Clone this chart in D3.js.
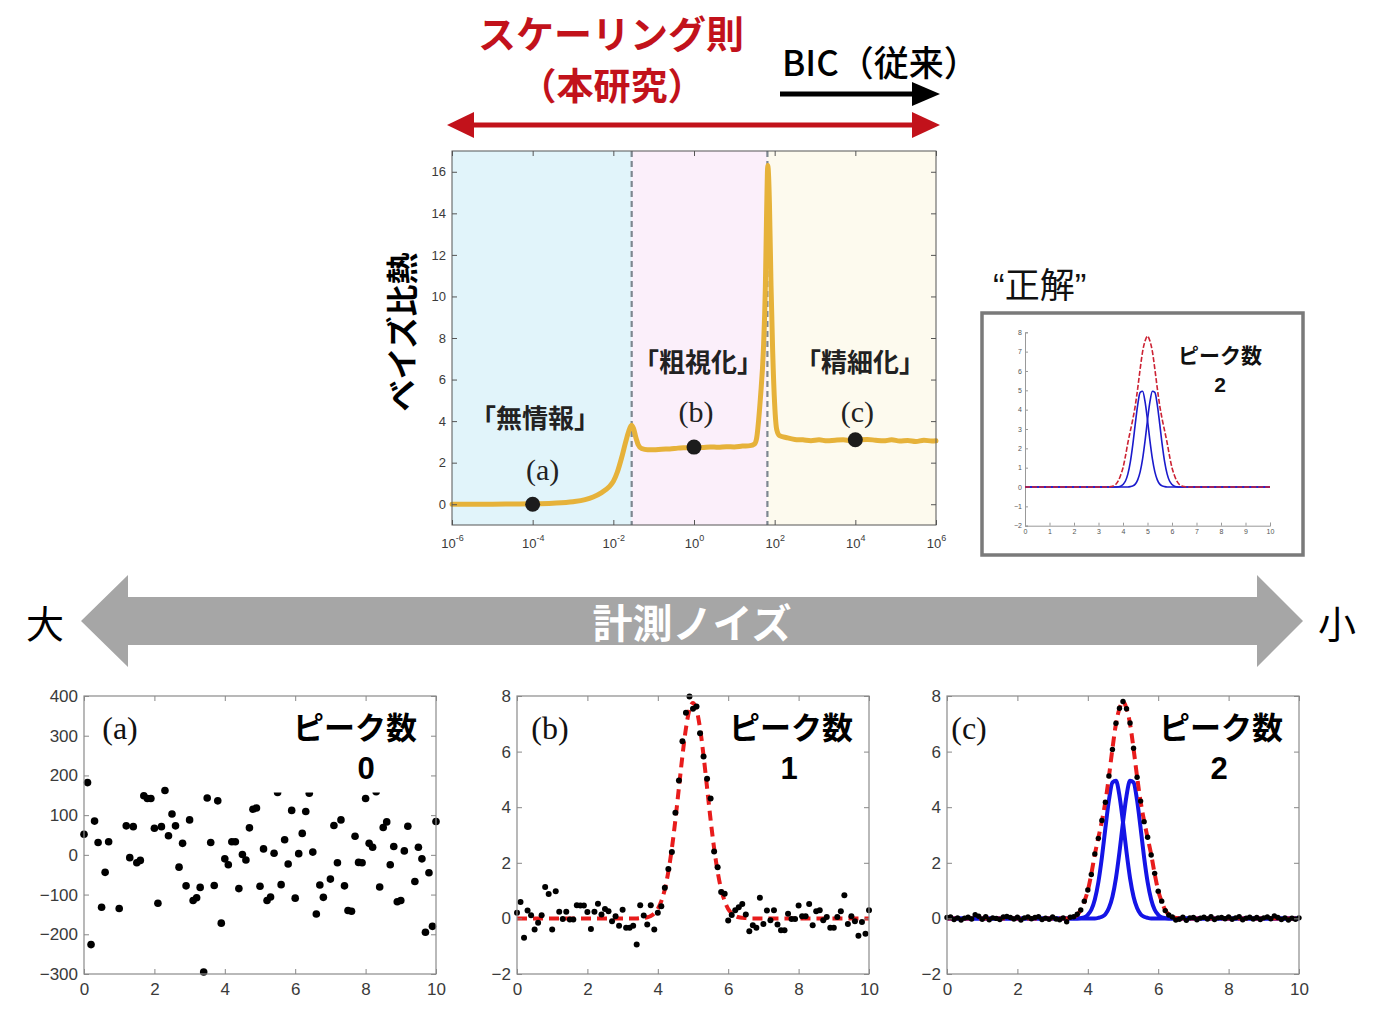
<!DOCTYPE html>
<html><head><meta charset="utf-8">
<script src="https://cdn.jsdelivr.net/npm/d3@7"></script>
<style>body{margin:0;background:#fff}svg{display:block}</style>
</head><body>
<svg id="c" width="1380" height="1014"></svg>
<script>
// ---------------- DATA ----------------
// main chart: Bayes specific heat vs noise parameter (log10 x)
const mainLogX = [-6,-5.5,-5,-4.5,-4,-3.5,-3,-2.7,-2.5,-2.3,-2.1,-2.0,-1.9,-1.8,-1.7,-1.62,-1.55,-1.5,-1.44,-1.38,-1.3,-1.15,-1.0,-0.8,-0.6,-0.4,-0.2,0,0.2,0.4,0.6,0.8,1.0,1.2,1.39,1.5,1.555,1.6,1.65,1.72,1.77,1.8,1.83,1.87,1.91,1.95,2.0,2.05,2.12,2.3,2.5,2.7,2.9,3.1,3.3,3.5,3.7,3.9,4.1,4.3,4.5,4.7,4.9,5.1,5.3,5.5,5.7,5.9,6];
const mainY    = [0,0,0,0.01,0.02,0.05,0.12,0.22,0.35,0.55,0.85,1.1,1.55,2.2,2.95,3.5,3.8,3.65,3.2,2.85,2.68,2.62,2.62,2.65,2.66,2.7,2.72,2.74,2.73,2.76,2.74,2.77,2.76,2.8,2.82,2.9,3.2,4.0,5.2,7.4,10.5,14,16.3,14.5,10.5,7.4,4.8,3.6,3.3,3.2,3.12,3.1,3.06,3.1,3.05,3.08,3.1,3.06,3.1,3.12,3.08,3.05,3.1,3.04,3.07,3.02,3.08,3.04,3.05];
const regionEdges  = [-6, -1.545, 1.82, 6];
const regionLabels = ["「無情報」","「粗視化」","「精細化」"];
const markerLogX   = [-4, 0, 4];
const markerY      = [0, 2.75, 3.1];
const markerLabels = ["(a)","(b)","(c)"];
const mainYTicks   = [0,2,4,6,8,10,12,14,16];
const mainXExp     = [-6,-4,-2,0,2,4,6];

// bottom panels: samples at x = 0, 0.1, ..., 10
const pointsA = [52,182,-226,85,31,-132,-44,33,290,320,
  -135,280,73,-7,71,-20,-14,149,142,142,
  67,-122,71,162,48,103,73,-31,29,-78,
  88,-115,-108,-82,-295,143,31,-77,136,-172,
  -10,-25,33,33,-85,1,-13,68,115,118,
  -79,15,-115,-106,4,157,-75,38,-23,112,
  -109,3,54,109,155,7,-149,-76,-107,230,
  -61,74,-20,88,-78,-140,-142,47,-19,-20,
  142,29,19,159,-81,69,83,-25,21,-118,
  -115,10,72,200,-67,19,-10,-195,-45,-180,
  84];
const pointsB = [0.20,0.59,-0.70,0.28,0.11,-0.40,-0.16,0.11,1.13,0.88,
  -0.40,0.98,0.24,-0.02,0.24,-0.04,-0.04,0.47,0.46,0.46,
  0.23,-0.38,0.24,0.53,0.14,0.34,0.26,-0.10,0.08,-0.26,
  0.31,-0.34,-0.34,-0.26,-0.94,0.47,0.10,-0.22,0.47,-0.40,
  0.20,0.44,1.10,1.78,2.39,3.80,4.96,6.37,7.40,7.98,
  7.54,7.62,6.66,5.82,5.02,4.31,2.41,1.84,0.95,0.89,
  -0.08,0.12,0.29,0.40,0.52,0.14,-0.46,-0.25,-0.34,0.74,
  -0.20,0.28,-0.07,0.29,-0.22,-0.43,-0.43,0.17,-0.02,-0.02,
  0.46,0.08,0.08,0.52,-0.25,0.26,0.29,-0.07,0.05,-0.34,
  -0.34,0.05,0.26,0.83,-0.20,0.08,-0.10,-0.62,-0.13,-0.55,
  0.29];
const pointsC = [0.03,0.05,-0.04,0.02,-0.06,0.01,0.04,-0.02,0.13,0.08,
  -0.03,0.06,-0.05,0.02,0.00,-0.04,0.05,0.07,0.03,-0.02,
  0.04,-0.06,0.02,0.05,-0.01,0.03,0.06,-0.04,0.01,-0.03,
  0.05,-0.02,-0.05,0.02,-0.12,0.04,0.06,0.15,0.30,0.62,
  1.02,1.58,2.32,2.88,3.52,4.18,5.12,6.08,7.02,7.56,
  7.80,7.54,7.03,6.12,5.08,4.22,3.48,2.92,2.28,1.62,
  0.98,0.62,0.28,0.12,0.05,-0.06,-0.03,0.04,-0.07,0.02,
  0.03,-0.05,0.01,0.04,-0.02,0.06,-0.04,0.02,0.03,-0.01,
  0.05,-0.03,0.02,0.06,-0.05,0.01,0.04,-0.02,0.03,-0.04,
  0.02,0.05,-0.01,0.09,0.03,-0.04,0.02,-0.06,0.01,-0.03,
  0.02];
// fitted / true curves
const fitX = [0,3.4,3.5,3.6,3.7,3.8,3.9,4.0,4.1,4.2,4.3,4.4,4.5,4.6,4.7,4.8,4.9,5.0,5.1,5.2,5.3,5.4,5.5,5.6,5.7,5.8,5.9,6.0,6.1,6.2,6.3,6.4,6.5,6.6,10];
const fitB = [0,0,0.01,0.02,0.04,0.09,0.18,0.34,0.62,1.05,1.68,2.52,3.55,4.70,5.85,6.84,7.51,7.75,7.51,6.84,5.85,4.70,3.55,2.52,1.68,1.05,0.62,0.34,0.18,0.09,0.04,0.02,0.01,0,0];
const sumCurve = [0,0,0.02,0.05,0.13,0.3,0.6,1.0,1.6,2.3,2.9,3.5,4.2,5.1,6.1,7.0,7.55,7.8,7.55,7.0,6.1,5.1,4.2,3.5,2.9,2.3,1.6,1.0,0.6,0.3,0.13,0.05,0.02,0,0];
const blue1 = [0,0,0,0,0,0.01,0.04,0.13,0.31,0.68,1.30,2.19,3.25,4.25,4.89,4.95,4.41,3.46,2.39,1.45,0.78,0.37,0.15,0.06,0.02,0,0,0,0,0,0,0,0,0,0];
const blue2 = [0,0,0,0,0,0,0,0,0,0,0.02,0.06,0.15,0.37,0.78,1.45,2.39,3.46,4.41,4.95,4.89,4.25,3.25,2.19,1.30,0.68,0.31,0.13,0.04,0.01,0,0,0,0,0];
const panelXTicks = [0,2,4,6,8,10];
const yTicksA = [-300,-200,-100,0,100,200,300,400];
const yTicksBC = [-2,0,2,4,6,8];
const insetXTicks = [0,1,2,3,4,5,6,7,8,9,10];
const insetYTicks = [-2,-1,0,1,2,3,4,5,6,7,8];
const panelLabels = ["(a)","(b)","(c)"];
const peakCounts = ["0","1","2"];

// ---------------- DRAW ----------------
const svg = d3.select("#c");
const CJK = "'Noto Sans CJK JP','Noto Sans',sans-serif";
const SANS = "'Liberation Sans','DejaVu Sans',sans-serif";
const SERIF = "'Liberation Serif','DejaVu Serif',serif";

function styleAxis(g, col, fs, fam) {
  g.select(".domain").remove();
  g.selectAll(".tick line").attr("stroke", col);
  g.selectAll(".tick text").attr("fill", "#3a3a3a").attr("font-size", fs).attr("font-family", fam);
}

// ---- top annotations ----
const RED = "#c2121b";
svg.append("text").attr("x", 611).attr("y", 31).attr("text-anchor","middle").attr("dominant-baseline","central")
  .attr("font-family", CJK).attr("font-weight", 700).attr("font-size", 38).attr("fill", RED).text("スケーリング則");
svg.append("text").attr("x", 612).attr("y", 84).attr("text-anchor","middle").attr("dominant-baseline","central")
  .attr("font-family", CJK).attr("font-weight", 700).attr("font-size", 37).attr("fill", RED).text("（本研究）");
svg.append("text").attr("x", 782).attr("y", 60).attr("text-anchor","start").attr("dominant-baseline","central")
  .attr("font-family", CJK).attr("font-weight", 500).attr("font-size", 35).attr("fill", "#000").text("BIC（従来）");
// red double arrow
svg.append("line").attr("x1", 470).attr("x2", 915).attr("y1", 125).attr("y2", 125).attr("stroke", RED).attr("stroke-width", 5);
svg.append("path").attr("d","M447,125 L474,112 L474,138 Z").attr("fill", RED);
svg.append("path").attr("d","M940,125 L912,112 L912,138 Z").attr("fill", RED);
// black arrow
svg.append("line").attr("x1", 780).attr("x2", 915).attr("y1", 94).attr("y2", 94).attr("stroke", "#000").attr("stroke-width", 5);
svg.append("path").attr("d","M940,94 L912,82 L912,106 Z").attr("fill", "#000");

// ---- main chart ----
const M = {l:452, r:936, t:151, b:525};
const xMain = d3.scaleLog().domain([1e-6, 1e6]).range([M.l, M.r]);
const yMain = d3.scaleLinear().domain([-1, 17]).range([M.b, M.t]);
const main = svg.append("g");
const regionFill = ["#e1f4fa", "#fbeffa", "#fdfaee"];
for (let i = 0; i < 3; i++) {
  main.append("rect").attr("x", xMain(10 ** regionEdges[i])).attr("y", M.t)
    .attr("width", xMain(10 ** regionEdges[i+1]) - xMain(10 ** regionEdges[i])).attr("height", M.b - M.t)
    .attr("fill", regionFill[i]);
}
[regionEdges[1], regionEdges[2]].forEach(e => {
  main.append("line").attr("x1", xMain(10 ** e)).attr("x2", xMain(10 ** e)).attr("y1", M.t).attr("y2", M.b)
    .attr("stroke", "#7d8790").attr("stroke-width", 2.2).attr("stroke-dasharray", "6,4");
});
const mainLine = d3.line().x(d => xMain(10 ** d[0])).y(d => yMain(d[1])).curve(d3.curveMonotoneX);
main.append("path").attr("d", mainLine(d3.zip(mainLogX, mainY))).attr("fill","none")
  .attr("stroke", "#e6b23a").attr("stroke-width", 5).attr("stroke-linejoin","round").attr("stroke-linecap","round");
markerLogX.forEach((lx, i) => {
  main.append("circle").attr("cx", xMain(10 ** lx)).attr("cy", yMain(markerY[i])).attr("r", 7.5).attr("fill", "#1c1c1c");
});
// axes
const gL = main.append("g").attr("transform", `translate(${M.l},0)`)
  .call(d3.axisLeft(yMain).tickValues(mainYTicks).tickSize(-5).tickPadding(6));
styleAxis(gL, "#555", 13, SANS);
const gR = main.append("g").attr("transform", `translate(${M.r},0)`)
  .call(d3.axisRight(yMain).tickValues(mainYTicks).tickSize(-5).tickFormat(""));
styleAxis(gR, "#555", 13, SANS);
const gB = main.append("g").attr("transform", `translate(0,${M.b})`)
  .call(d3.axisBottom(xMain).tickValues(mainXExp.map(e => 10 ** e)).tickSize(-5).tickFormat(""));
styleAxis(gB, "#555", 13, SANS);
gB.selectAll(".tick").append("text").attr("y", 23).attr("text-anchor","middle").attr("fill","#3a3a3a")
  .attr("font-family", SANS).attr("font-size", 13)
  .each(function(d) {
    const t = d3.select(this);
    t.append("tspan").text("10");
    t.append("tspan").attr("dy", -7).attr("font-size", 9).text(String(Math.round(Math.log10(d))));
  });
const gT = main.append("g").attr("transform", `translate(0,${M.t})`)
  .call(d3.axisTop(xMain).tickValues(mainXExp.map(e => 10 ** e)).tickSize(-5).tickFormat(""));
styleAxis(gT, "#555", 13, SANS);
main.append("rect").attr("x", M.l).attr("y", M.t).attr("width", M.r - M.l).attr("height", M.b - M.t)
  .attr("fill","none").attr("stroke","#555").attr("stroke-width",1);
// labels in main chart
const regLabelPos = [[535, 416], [698, 360], [860, 360]];
regionLabels.forEach((t, i) => {
  main.append("text").attr("x", regLabelPos[i][0]).attr("y", regLabelPos[i][1]).attr("text-anchor","middle")
    .attr("dominant-baseline","central").attr("font-family", CJK).attr("font-weight", 700).attr("font-size", 26)
    .attr("fill", "#222").text(t);
});
const markerLabelY = [469, 411, 411];
markerLogX.forEach((lx, i) => {
  main.append("text").attr("x", xMain(10 ** lx) + (i === 0 ? 10 : 2)).attr("y", markerLabelY[i])
    .attr("text-anchor","middle").attr("dominant-baseline","central").attr("font-family", SERIF)
    .attr("font-size", 30).attr("fill","#222").text(markerLabels[i]);
});
svg.append("text").attr("transform","translate(400,332) rotate(-90)").attr("text-anchor","middle")
  .attr("dominant-baseline","central").attr("font-family", CJK).attr("font-weight", 700).attr("font-size", 32)
  .attr("fill","#000").text("ベイズ比熱");

// ---- inset "正解" ----
svg.append("text").attr("x", 993).attr("y", 298).attr("font-family", "'Liberation Sans','Noto Sans CJK JP',sans-serif")
  .attr("font-size", 35).attr("fill","#111").text("“正解”");
svg.append("rect").attr("x", 982).attr("y", 313).attr("width", 321).attr("height", 242)
  .attr("fill","#fff").attr("stroke","#7a7a7a").attr("stroke-width", 3.5);
const xi = d3.scaleLinear().domain([0, 10]).range([1025, 1270]);
const yi = d3.scaleLinear().domain([-2, 8]).range([525.7, 332.3]);
const inset = svg.append("g");
const gi1 = inset.append("g").attr("transform","translate(1025,0)")
  .call(d3.axisLeft(yi).tickValues(insetYTicks).tickSize(-3).tickPadding(3));
gi1.select(".domain").attr("stroke","#999");
gi1.selectAll(".tick line").attr("stroke","#999");
gi1.selectAll(".tick text").attr("font-size", 7).attr("fill","#555").attr("font-family", SANS);
const gi2 = inset.append("g").attr("transform","translate(0,525.7)")
  .call(d3.axisBottom(xi).tickValues(insetXTicks).tickSize(-3).tickPadding(3));
gi2.select(".domain").attr("stroke","#999");
gi2.selectAll(".tick line").attr("stroke","#999");
gi2.selectAll(".tick text").attr("font-size", 7).attr("fill","#555").attr("font-family", SANS);
const lineI = d3.line().x(d => xi(d[0])).y(d => yi(d[1])).curve(d3.curveMonotoneX);
inset.append("path").attr("d", lineI(d3.zip(fitX, blue1))).attr("fill","none").attr("stroke","#1a1acc").attr("stroke-width",1.6);
inset.append("path").attr("d", lineI(d3.zip(fitX, blue2))).attr("fill","none").attr("stroke","#1a1acc").attr("stroke-width",1.6);
inset.append("path").attr("d", lineI(d3.zip(fitX, sumCurve))).attr("fill","none").attr("stroke","#cc2233")
  .attr("stroke-width",1.6).attr("stroke-dasharray","5,2");
inset.append("text").attr("x", 1220).attr("y", 354).attr("text-anchor","middle").attr("dominant-baseline","central")
  .attr("font-family", CJK).attr("font-weight",700).attr("font-size",21).attr("fill","#111").text("ピーク数");
inset.append("text").attr("x", 1220).attr("y", 384).attr("text-anchor","middle").attr("dominant-baseline","central")
  .attr("font-family", SANS).attr("font-weight",700).attr("font-size",21).attr("fill","#111").text(peakCounts[2]);

// ---- gray double arrow ----
svg.append("path").attr("d","M81,621 L128,575 L128,597 L1257,597 L1257,575 L1303,621 L1257,667 L1257,645 L128,645 L128,667 Z")
  .attr("fill","#a6a6a6");
svg.append("text").attr("x", 692).attr("y", 621).attr("text-anchor","middle").attr("dominant-baseline","central")
  .attr("font-family", CJK).attr("font-weight",700).attr("font-size",40).attr("fill","#fff").text("計測ノイズ");
svg.append("text").attr("x", 45).attr("y", 621).attr("text-anchor","middle").attr("dominant-baseline","central")
  .attr("font-family", CJK).attr("font-size",38).attr("fill","#000").text("大");
svg.append("text").attr("x", 1337).attr("y", 621).attr("text-anchor","middle").attr("dominant-baseline","central")
  .attr("font-family", CJK).attr("font-size",38).attr("fill","#000").text("小");

// ---- bottom panels ----
const panelCfg = [
  {l:84,  yDom:[-300,400], yTicks:yTicksA,  pts:pointsA, r:3.8, labX:120, peakX:355, numX:366},
  {l:517, yDom:[-2,8],     yTicks:yTicksBC, pts:pointsB, r:3.0, labX:550, peakX:791, numX:789},
  {l:947, yDom:[-2,8],     yTicks:yTicksBC, pts:pointsC, r:2.7, labX:969, peakX:1221, numX:1219}
];
const PW = 352, PT = 696, PB = 974;
panelCfg.forEach((p, k) => {
  const g = svg.append("g");
  const x = d3.scaleLinear().domain([0, 10]).range([p.l, p.l + PW]);
  const y = d3.scaleLinear().domain(p.yDom).range([PB, PT]);
  const ln = d3.line().x(d => x(d[0])).y(d => y(d[1])).curve(d3.curveMonotoneX);
  if (k === 2) {
    g.append("path").attr("d", ln(d3.zip(fitX, blue1))).attr("fill","none").attr("stroke","#1414e6").attr("stroke-width",4);
    g.append("path").attr("d", ln(d3.zip(fitX, blue2))).attr("fill","none").attr("stroke","#1414e6").attr("stroke-width",4);
    g.append("path").attr("d", ln(d3.zip(fitX, sumCurve))).attr("fill","none").attr("stroke","#e81c1c")
      .attr("stroke-width",4).attr("stroke-dasharray","10,6");
  }
  if (k === 1) {
    g.append("path").attr("d", ln(d3.zip(fitX, fitB))).attr("fill","none").attr("stroke","#e81c1c")
      .attr("stroke-width",4).attr("stroke-dasharray","10,6");
  }
  p.pts.forEach((v, i) => {
    g.append("circle").attr("cx", x(i / 10)).attr("cy", y(v)).attr("r", p.r).attr("fill", "#000");
  });
  if (k === 0) {
    // label boxes that hide points beneath the in-plot text
    g.append("rect").attr("x", x(0.45)).attr("y", y(400)).attr("width", x(1.65) - x(0.45)).attr("height", y(262) - y(400)).attr("fill","#fff");
    g.append("rect").attr("x", x(4.95)).attr("y", y(400)).attr("width", x(9.9) - x(4.95)).attr("height", y(157) - y(400)).attr("fill","#fff");
  }
  const aL = g.append("g").attr("transform", `translate(${p.l},0)`)
    .call(d3.axisLeft(y).tickValues(p.yTicks).tickSize(-5).tickPadding(6));
  styleAxis(aL, "#888", 17, SANS);
  const aR = g.append("g").attr("transform", `translate(${p.l + PW},0)`)
    .call(d3.axisRight(y).tickValues(p.yTicks).tickSize(-5).tickFormat(""));
  styleAxis(aR, "#888", 17, SANS);
  const aB = g.append("g").attr("transform", `translate(0,${PB})`)
    .call(d3.axisBottom(x).tickValues(panelXTicks).tickSize(-5).tickPadding(9));
  styleAxis(aB, "#888", 17, SANS);
  const aT = g.append("g").attr("transform", `translate(0,${PT})`)
    .call(d3.axisTop(x).tickValues(panelXTicks).tickSize(-5).tickFormat(""));
  styleAxis(aT, "#888", 17, SANS);
  g.append("rect").attr("x", p.l).attr("y", PT).attr("width", PW).attr("height", PB - PT)
    .attr("fill","none").attr("stroke","#8a8a8a").attr("stroke-width",1.2);
  g.append("text").attr("x", p.labX).attr("y", 728).attr("text-anchor","middle").attr("dominant-baseline","central")
    .attr("font-family", SERIF).attr("font-size", 32).attr("fill","#111").text(panelLabels[k]);
  g.append("text").attr("x", p.peakX).attr("y", 725).attr("text-anchor","middle").attr("dominant-baseline","central")
    .attr("font-family", CJK).attr("font-weight",700).attr("font-size",31).attr("fill","#000").text("ピーク数");
  g.append("text").attr("x", p.numX).attr("y", 768).attr("text-anchor","middle").attr("dominant-baseline","central")
    .attr("font-family", SANS).attr("font-weight",700).attr("font-size",31).attr("fill","#000").text(peakCounts[k]);
});
</script>
</body></html>
